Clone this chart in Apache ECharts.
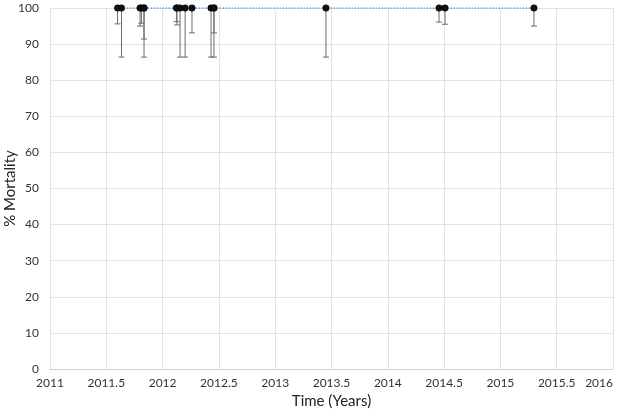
<!DOCTYPE html>
<html>
<head>
<meta charset="utf-8">
<script src="https://cdn.jsdelivr.net/npm/echarts@6/dist/echarts.min.js"></script>
<style>
  html, body { margin: 0; padding: 0; background: #fff; }
  #chart { width: 625px; height: 416px; }
</style>
</head>
<body>
<div id="chart"></div>
<script>
// sampling times (years) and measured mortality
const years = [2011.60, 2011.635, 2011.80, 2011.812, 2011.835, 2011.835, 2012.123, 2012.128, 2012.155,
  2012.20, 2012.261, 2012.43, 2012.456, 2012.456, 2013.451, 2014.455, 2014.508, 2015.298]
const mortality = [100, 100, 100, 100, 100, 100, 100, 100, 100, 100, 100, 100, 100, 100, 100, 100, 100, 100]
// lower end of each error bar
const lowerBound = [95.6, 86.4, 95.0, 95.8, 91.4, 86.4, 96.2, 95.3, 86.4, 86.4, 93.1, 86.4, 93.1, 86.4,
  86.4, 96.1, 95.5, 95.0]

const xTicks = [2011, 2011.5, 2012, 2012.5, 2013, 2013.5, 2014, 2014.5, 2015, 2015.5, 2016]

const font = 'Lato, "Open Sans", sans-serif'

const chart = echarts.init(document.getElementById('chart'))

const points = years.map((y, i) => [y, mortality[i]])
const bars = years.map((y, i) => [y, lowerBound[i], mortality[i]])

chart.setOption({
  animation: false,
  grid: { left: 50, right: 12, top: 8, bottom: 47, outerBoundsMode: 'none', containLabel: false },
  xAxis: {
    type: 'value',
    min: 2011,
    max: 2016,
    interval: 0.5,
    name: 'Time (Years)',
    nameLocation: 'middle',
    nameGap: 24,
    nameTextStyle: { fontFamily: font, fontSize: 15, color: '#222' },
    axisLine: { show: true, lineStyle: { color: '#d0d0d0' } },
    axisTick: { show: false },
    splitLine: { show: true, lineStyle: { color: '#e2e2e2' } },
    axisLabel: {
      fontFamily: font, fontSize: 12, color: '#333', margin: 8,
      alignMaxLabel: 'right',
      formatter: v => xTicks.includes(v) ? String(v) : ''
    }
  },
  yAxis: {
    type: 'value',
    min: 0,
    max: 100,
    interval: 10,
    name: '% Mortality',
    nameLocation: 'middle',
    nameGap: 32,
    nameMoveOverlap: false,
    nameTextStyle: { fontFamily: font, fontSize: 15, color: '#222' },
    axisLine: { show: false },
    axisTick: { show: false },
    splitLine: { show: true, lineStyle: { color: '#e2e2e2' } },
    axisLabel: { fontFamily: font, fontSize: 12, color: '#333', margin: 11 }
  },
  series: [
    {
      type: 'custom',
      data: bars,
      z: 2,
      renderItem: (params, api) => {
        const x = api.value(0)
        const lo = api.coord([x, api.value(1)])
        const hi = api.coord([x, api.value(2)])
        const style = { stroke: '#6b6b6b', lineWidth: 1 }
        return {
          type: 'group',
          children: [
            { type: 'line', shape: { x1: lo[0], y1: lo[1], x2: hi[0], y2: hi[1] }, style },
            { type: 'line', shape: { x1: lo[0] - 3, y1: lo[1], x2: lo[0] + 3, y2: lo[1] }, style }
          ]
        }
      }
    },
    {
      type: 'line',
      data: points,
      z: 3,
      symbol: 'circle',
      symbolSize: 6.5,
      itemStyle: { color: '#111', borderColor: '#000', borderWidth: 0.5 },
      lineStyle: { color: '#5b9bd5', width: 1.4, type: [1.5, 1.5] }
    }
  ]
})
</script>
</body>
</html>
